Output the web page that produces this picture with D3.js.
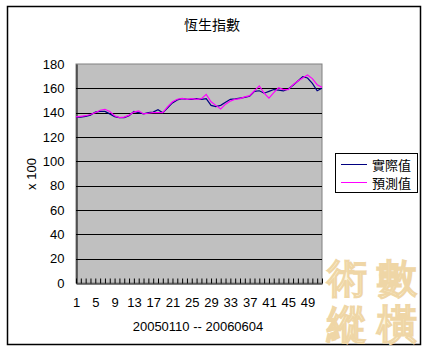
<!DOCTYPE html>
<html>
<head>
<meta charset="utf-8">
<script src="https://cdn.jsdelivr.net/npm/d3@7"></script>
<style>
  body { margin: 0; background: #fff; }
  svg { display: block; }
  text { font-family: "Liberation Sans", Arial, sans-serif; }
  .cjk { font-family: "Noto Sans CJK TC", "Noto Sans CJK SC", sans-serif; }
</style>
</head>
<body>
<svg id="chart" width="428" height="353"></svg>
<script>
// chart data, weekly points 20050110 -- 20060604 (index in units of 100)
var weeks = d3.range(1, 53);
var actual = [136.3, 136.3, 137, 138, 140.5, 141, 141, 139, 136.8, 136, 136, 137.5, 141,
  140, 139, 140, 140.5, 142.5, 140, 144, 148, 150.5, 151.5, 151, 151, 151.5, 151,
  151.5, 146, 145, 146, 148.5, 151, 151.3, 152, 152.5, 153.5, 157.5, 158, 156, 157.5,
  159, 158.5, 158, 159.5, 162.5, 166, 169.5, 168.5, 164, 158, 160];
var predicted = [136.5, 137, 137.5, 138.5, 140, 142, 142.8, 141, 137.5, 136, 136.3, 138, 140.5,
  141.5, 139, 139.5, 140, 140, 140, 145, 149, 151, 151.7, 151, 151.5, 151, 151.5,
  155, 149, 146, 143, 147, 149.5, 151, 151.5, 153, 154, 158, 162, 156, 152,
  156.5, 160.5, 159, 159, 163, 166, 168.5, 171, 168, 163, 160.8];
var yTicks = [0, 20, 40, 60, 80, 100, 120, 140, 160, 180];
var xLabels = [1, 5, 9, 13, 17, 21, 25, 29, 33, 37, 41, 45, 49];
var seriesNames = ["實際值", "預測值"];
var seriesColors = ["#000080", "#ff00ff"];
var title = "恆生指數";
var xTitle = "20050110 -- 20060604";
var yTitle = "x 100";
var watermark = ["術", "數", "縱", "橫"];

var svg = d3.select("#chart");

var plotLeft = 76, plotRight = 322, plotTop = 64, plotBottom = 283;

var x = d3.scalePoint().domain(weeks).range([plotLeft, plotRight]);
var y = d3.scaleLinear().domain([0, 180]).range([plotBottom, plotTop]);

	//chart frame
svg.append("rect")
  .attr("x", 7.5).attr("y", 6.5)
  .attr("width", 413).attr("height", 338)
  .attr("fill", "#fff").attr("stroke", "#000").attr("stroke-width", 1.5);

	//watermark behind everything
var wm = svg.append("g").attr("class", "cjk");
watermark.forEach(function(ch, i) {
  wm.append("text")
    .attr("x", 347 + (i % 2) * 50)
    .attr("y", 292 + Math.floor(i / 2) * 46)
    .attr("text-anchor", "middle")
    .attr("font-size", 40)
    .attr("font-weight", "bold")
    .attr("fill", "#fef6e0")
    .attr("stroke", "#efd6a6")
    .attr("stroke-width", 1)
    .text(ch);
});

	//plot area
svg.append("rect")
  .attr("x", plotLeft).attr("y", plotTop)
  .attr("width", plotRight - plotLeft).attr("height", plotBottom - plotTop)
  .attr("fill", "#c0c0c0").attr("stroke", "#808080");

	//gridlines
svg.append("g")
  .selectAll("line")
  .data(yTicks.filter(function(d) { return d > 0 && d < 180; }))
  .enter().append("line")
    .attr("x1", plotLeft).attr("x2", plotRight)
    .attr("y1", function(d) { return Math.round(y(d)) + 0.5; })
    .attr("y2", function(d) { return Math.round(y(d)) + 0.5; })
    .attr("stroke", "#000");

	//y axis
var yAxis = svg.append("g")
  .attr("transform", "translate(" + (plotLeft + 0.5) + ",0)")
  .call(d3.axisLeft(y).tickValues(yTicks).tickSize(0).tickPadding(12));
yAxis.select(".domain").attr("stroke", "#000");
yAxis.selectAll("text").attr("font-size", 13).attr("fill", "#000")
  .attr("font-family", "Liberation Sans, Arial, sans-serif");

	//x axis, ticks point up into the plot
var xAxis = svg.append("g")
  .attr("transform", "translate(0," + (plotBottom + 0.5) + ")")
  .call(d3.axisBottom(x).tickSizeInner(-5).tickSizeOuter(0).tickPadding(14)
    .tickFormat(function(d) { return xLabels.indexOf(d) >= 0 ? d : ""; }));
xAxis.select(".domain").attr("stroke", "#000");
xAxis.selectAll(".tick line").attr("stroke", "#000");
xAxis.selectAll("text").attr("font-size", 13).attr("fill", "#000")
  .attr("font-family", "Liberation Sans, Arial, sans-serif");

	//series lines
var line = d3.line()
  .x(function(d, i) { return x(weeks[i]); })
  .y(function(d) { return y(d); });

[actual, predicted].forEach(function(values, k) {
  svg.append("path")
    .datum(values)
    .attr("d", line)
    .attr("fill", "none")
    .attr("stroke", seriesColors[k])
    .attr("stroke-width", 1.2);
});

	//titles
svg.append("text")
  .attr("class", "cjk")
  .attr("x", 212).attr("y", 30)
  .attr("text-anchor", "middle")
  .attr("font-size", 14)
  .text(title);

svg.append("text")
  .attr("x", 198).attr("y", 331)
  .attr("text-anchor", "middle")
  .attr("font-size", 13)
  .text(xTitle);

svg.append("text")
  .attr("transform", "translate(36,174) rotate(-90)")
  .attr("text-anchor", "middle")
  .attr("font-size", 13)
  .text(yTitle);

	//legend
var legend = svg.append("g");
legend.append("rect")
  .attr("x", 335.5).attr("y", 153.5)
  .attr("width", 82).attr("height", 39)
  .attr("fill", "#fff").attr("stroke", "#000");

seriesNames.forEach(function(name, k) {
  var ly = 164.5 + k * 18;
  legend.append("line")
    .attr("x1", 341).attr("x2", 367)
    .attr("y1", ly).attr("y2", ly)
    .attr("stroke", seriesColors[k]);
  legend.append("text")
    .attr("class", "cjk")
    .attr("x", 372).attr("y", ly + 5)
    .attr("font-size", 13)
    .text(name);
});
</script>
</body>
</html>
